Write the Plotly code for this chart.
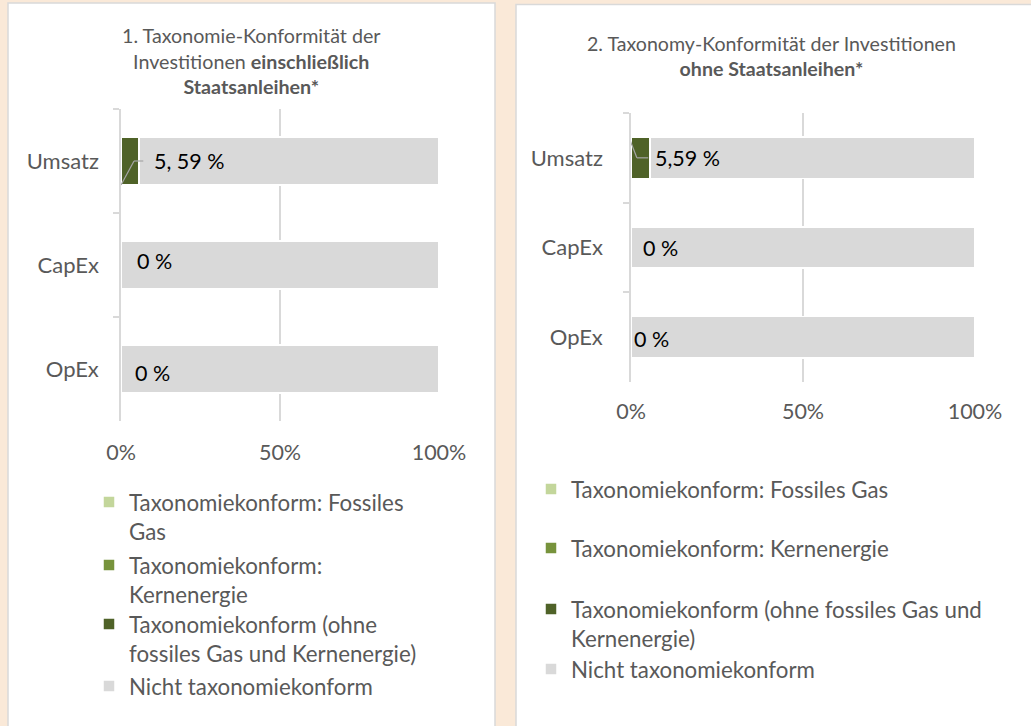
import plotly.graph_objects as go

# ---------------- data ----------------
categories = ["Umsatz", "CapEx", "OpEx"]
# panel 1: incl. sovereign bonds
p1_ohne = [5.59, 0, 0]
p1_kern = [0, 0, 0]
p1_fossil = [0, 0, 0]
p1_nicht = [94.41, 100, 100]
# panel 2: excl. sovereign bonds
p2_ohne = [5.59, 0, 0]
p2_kern = [0, 0, 0]
p2_fossil = [0, 0, 0]
p2_nicht = [94.41, 100, 100]

labels_1 = ["5, 59 %", "0 %", "0 %"]
labels_2 = ["5,59 %", "0 %", "0 %"]

tick_vals = [0, 50, 100]
tick_text = ["0%", "50%", "100%"]

# legend texts (wrapped as in the reference); order = stacking order
legend_text_1 = [
    "Taxonomiekonform (ohne<br>fossiles Gas und Kernenergie)",
    "Taxonomiekonform:<br>Kernenergie",
    "Taxonomiekonform: Fossiles<br>Gas",
    "Nicht taxonomiekonform",
]
legend_text_2 = [
    "Taxonomiekonform (ohne fossiles Gas und<br>Kernenergie)",
    "Taxonomiekonform: Kernenergie",
    "Taxonomiekonform: Fossiles Gas",
    "Nicht taxonomiekonform",
]

title_1 = "1. Taxonomie-Konformität der<br>Investitionen <b>einschließlich</b><br><b>Staatsanleihen*</b>"
title_2 = "2. Taxonomy-Konformität der Investitionen<br><b>ohne Staatsanleihen*</b>"

# ---------------- style ----------------
W, H = 1031, 726
FONT = "Lato"
TXT = "#595959"
GRID = "#D9D9D9"
BG = "#FAE9D8"
colors = ["#4F6228", "#77933C", "#C3D69B", "#D9D9D9"]


def px(x):
    return x / W


def py(y):
    return 1 - y / H


fig = go.Figure()

panels = [
    dict(xa="x", ya="y", data=[p1_ohne, p1_kern, p1_fossil, p1_nicht], leg=legend_text_1,
         legids=["legend4", "legend3", "legend2", "legend5"]),
    dict(xa="x2", ya="y2", data=[p2_ohne, p2_kern, p2_fossil, p2_nicht], leg=legend_text_2,
         legids=["legend8", "legend7", "legend6", "legend9"]),
]

for p in panels:
    for i, vals in enumerate(p["data"]):
        fig.add_trace(go.Bar(
            y=categories, x=vals, orientation="h", name=p["leg"][i],
            marker=dict(color=colors[i], line=dict(color="white", width=1.5)),
            xaxis=p["xa"], yaxis=p["ya"], legend=p["legids"][i],
            hoverinfo="skip",
        ))

# legend positions (px): (legend left, legend top)
LX1, LX2 = 89, 531
leg_pos = {
    "legend2": (LX1, 481), "legend3": (LX1, 544), "legend4": (LX1, 603), "legend5": (LX1, 665),
    "legend6": (LX2, 468), "legend7": (LX2, 527), "legend8": (LX2, 588), "legend9": (LX2, 648),
}
leg_layout = {}
for k, (lx, ly) in leg_pos.items():
    leg_layout[k] = dict(x=px(lx), y=py(ly), xanchor="left", yanchor="top", valign="top",
                         bgcolor="rgba(0,0,0,0)", font=dict(family=FONT, size=22.3, color=TXT),
                         itemclick=False, itemdoubleclick=False)

axis_font = dict(family=FONT, size=21.5, color=TXT)
cat_font = dict(family=FONT, size=22, color=TXT)

xcommon = dict(range=[0, 100], tickvals=tick_vals, ticktext=tick_text, showgrid=True,
               gridcolor=GRID, gridwidth=1.5, zeroline=False, showline=False, ticks="",
               tickfont=axis_font, fixedrange=True, automargin=False)
ycommon = dict(type="category", autorange="reversed", showline=True, linecolor=GRID, linewidth=1.5,
               ticks="outside", tickson="boundaries", ticklen=6, tickcolor=GRID, tickwidth=1.5,
               showgrid=False, tickfont=cat_font, fixedrange=True, automargin=False)

fig.update_layout(
    width=W, height=H, margin=dict(l=0, r=0, t=0, b=0, autoexpand=False),
    paper_bgcolor=BG, plot_bgcolor="rgba(0,0,0,0)",
    barmode="stack", bargap=0.54, showlegend=True,
    font=dict(family=FONT, color=TXT),
    xaxis=dict(domain=[px(121), px(439)], anchor="y", ticklabelstandoff=16, **xcommon),
    yaxis=dict(domain=[py(421), py(109)], anchor="x", ticklabelstandoff=16, **ycommon),
    xaxis2=dict(domain=[px(631), px(975)], anchor="y2", ticklabelstandoff=14, **xcommon),
    yaxis2=dict(domain=[py(382), py(113)], anchor="x2", ticklabelstandoff=22, **ycommon),
    **leg_layout,
)

# white panels
fig.add_shape(type="rect", xref="paper", yref="paper", x0=px(8), x1=px(495), y0=-0.05, y1=py(3),
              fillcolor="white", line=dict(color=GRID, width=1.5), layer="below")
fig.add_shape(type="rect", xref="paper", yref="paper", x0=px(516), x1=1.05, y0=-0.05, y1=py(4.5),
              fillcolor="white", line=dict(color=GRID, width=1.5), layer="below")

# titles
fig.add_annotation(text=title_1, xref="paper", yref="paper", x=px(251), y=py(60.5), showarrow=False,
                   xanchor="center", yanchor="middle", font=dict(family=FONT, size=19.7, color=TXT))
fig.add_annotation(text=title_2, xref="paper", yref="paper", x=px(771), y=py(56), showarrow=False,
                   xanchor="center", yanchor="middle", font=dict(family=FONT, size=19.6, color=TXT))

# data labels (label offsets in axis units)
lab_off_1 = [9.7, 4.4, 3.8]
lab_off_2 = [6.4, 2.9, 0.3]
lab_dy_1 = [0, -0.04, 0.04]
lab_dy_2 = [0, 0.01, 0.02]
for i, c in enumerate(categories):
    fig.add_annotation(text=labels_1[i], x=lab_off_1[i], y=i + lab_dy_1[i], xref="x", yref="y",
                       showarrow=False, xanchor="left", yanchor="middle",
                       font=dict(family=FONT, size=21.5, color="#000000"))
    fig.add_annotation(text=labels_2[i], x=lab_off_2[i], y=i + lab_dy_2[i], xref="x2", yref="y2",
                       showarrow=False, xanchor="left", yanchor="middle",
                       font=dict(family=FONT, size=21.5, color="#000000"))

# leader lines for the Umsatz labels
half = (1 - 0.54) / 2
lead = dict(color="#A6A6A6", width=1.2)
fig.add_shape(type="line", xref="x", yref="y", x0=0, y0=half, x1=4.1, y1=0, line=lead)
fig.add_shape(type="line", xref="x", yref="y", x0=4.1, y0=0, x1=7.0, y1=0, line=lead)
fig.add_shape(type="line", xref="x2", yref="y2", x0=-0.8, y0=-half - 0.02, x1=1.7, y1=0, line=lead)
fig.add_shape(type="line", xref="x2", yref="y2", x0=1.7, y0=0, x1=5.0, y1=0, line=lead)

fig.write_html("out.html", config={"displayModeBar": False},
               post_script="document.body.style.margin='0px';")
